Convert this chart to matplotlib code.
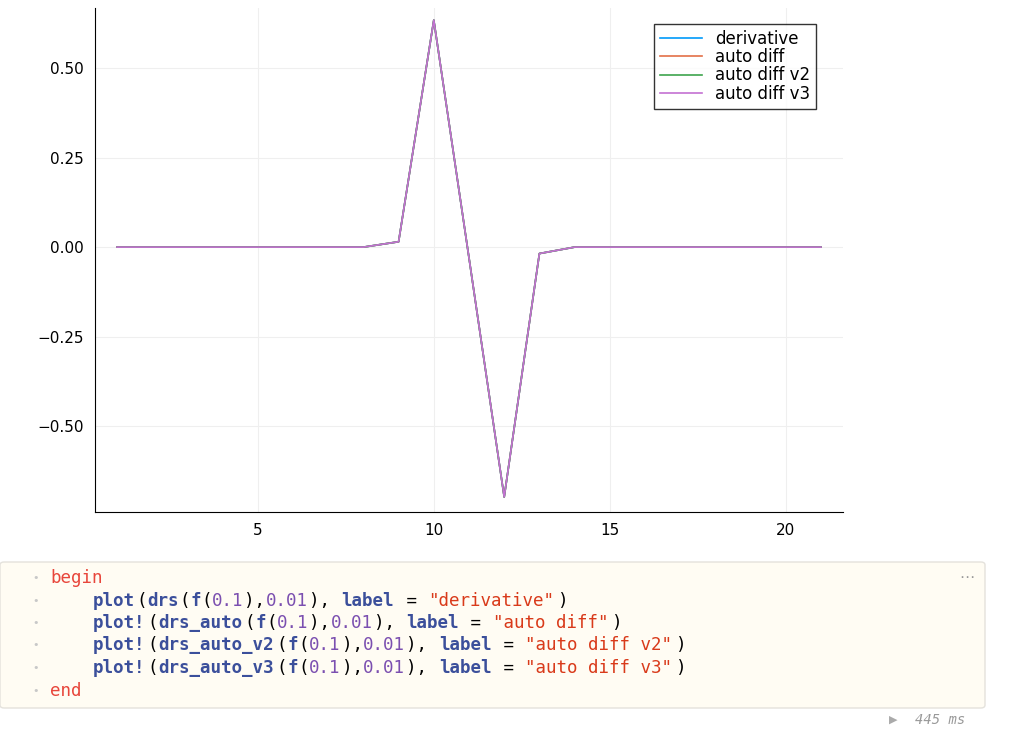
import matplotlib.pyplot as plt
from matplotlib.patches import FancyBboxPatch

x_vals = list(range(1, 22))
y_vals = [0, 0, 0, 0, 0, 0, 0, 0, 0.015, 0.634, -0.03, -0.698, -0.018,
          0, 0, 0, 0, 0, 0, 0, 0]
labels = ["derivative", "auto diff", "auto diff v2", "auto diff v3"]
colors = ["#009AFA", "#E36F47", "#3EA44E", "#C371D2"]

W, H = 1024, 732
fig = plt.figure(figsize=(W / 100, H / 100), dpi=100)

def rect(l, t, r, b):
    return [l / W, 1 - b / H, (r - l) / W, (b - t) / H]

ax = fig.add_axes(rect(95, 8, 843, 512))
for lab, c in zip(labels, colors):
    ax.plot(x_vals, y_vals, color=c, lw=1.2, label=lab)
ax.set_xlim(0.375, 21.625)
ax.set_ylim(-0.740, 0.668)
ax.set_xticks([5, 10, 15, 20])
ax.set_yticks([-0.5, -0.25, 0, 0.25, 0.5])
ax.set_yticklabels(["\u22120.50", "\u22120.25", "0.00", "0.25", "0.50"])
ax.grid(True, color="#efefef", lw=0.8)
for s in ["top", "right"]:
    ax.spines[s].set_visible(False)
ax.tick_params(labelsize=11, length=0, pad=8)
leg = ax.legend(loc="upper right", bbox_to_anchor=(0.975, 0.985), fontsize=12,
                frameon=True, fancybox=False, edgecolor="black",
                handlelength=2.5, borderpad=0.35, labelspacing=0.02)
leg.get_frame().set_linewidth(1)

# code cell
cell = FancyBboxPatch((0 / W, 1 - 708 / H), 985 / W, 146 / H,
                      boxstyle="round,pad=0,rounding_size=0.004",
                      transform=fig.transFigure, facecolor="#fffcf3",
                      edgecolor="#e4e2dc", lw=1)
fig.patches.append(cell)
lines = [
    [("begin", "#e8463b")],
    [("    ", "k"), ("plot", "#3b4f9b"), ("(", "k"), ("drs", "#3b4f9b"), ("(", "k"), ("f", "#3b4f9b"),
     ("(", "k"), ("0.1", "#7b4fb0"), ("),", "k"), ("0.01", "#7b4fb0"), ("), ", "k"), ("label", "#3b4f9b"),
     (" = ", "k"), ('"derivative"', "#d93a1a"), (")", "k")],
    [("    ", "k"), ("plot!", "#3b4f9b"), ("(", "k"), ("drs_auto", "#3b4f9b"), ("(", "k"), ("f", "#3b4f9b"),
     ("(", "k"), ("0.1", "#7b4fb0"), ("),", "k"), ("0.01", "#7b4fb0"), ("), ", "k"), ("label", "#3b4f9b"),
     (" = ", "k"), ('"auto diff"', "#d93a1a"), (")", "k")],
    [("    ", "k"), ("plot!", "#3b4f9b"), ("(", "k"), ("drs_auto_v2", "#3b4f9b"), ("(", "k"), ("f", "#3b4f9b"),
     ("(", "k"), ("0.1", "#7b4fb0"), ("),", "k"), ("0.01", "#7b4fb0"), ("), ", "k"), ("label", "#3b4f9b"),
     (" = ", "k"), ('"auto diff v2"', "#d93a1a"), (")", "k")],
    [("    ", "k"), ("plot!", "#3b4f9b"), ("(", "k"), ("drs_auto_v3", "#3b4f9b"), ("(", "k"), ("f", "#3b4f9b"),
     ("(", "k"), ("0.1", "#7b4fb0"), ("),", "k"), ("0.01", "#7b4fb0"), ("), ", "k"), ("label", "#3b4f9b"),
     (" = ", "k"), ('"auto diff v3"', "#d93a1a"), (")", "k")],
    [("end", "#e8463b")],
]
char_w = 10.8
for i, segs in enumerate(lines):
    ypx = 578 + i * 22.5
    fig.text(32 / W, 1 - ypx / H, "\u2022", color="#c8c8c8", fontsize=8, va="center")
    col = 0
    for txt, c in segs:
        fig.text((50 + col * char_w) / W, 1 - ypx / H, txt, color=c, fontsize=12.6,
                 family="DejaVu Sans Mono", va="center",
                 weight="bold" if c == "#3b4f9b" else "normal")
        col += len(txt)
fig.text(967 / W, 1 - 578 / H, "\u22ef", fontsize=11, color="#999999", ha="center", va="center")
fig.text(965 / W, 1 - 720 / H, "445 ms", fontsize=10, color="#999999", style="italic",
         ha="right", va="center", family="DejaVu Sans Mono")
fig.text(893 / W, 1 - 720 / H, "\u25b6", fontsize=8, color="#aaaaaa", ha="center", va="center")

fig.savefig("out.png", dpi=100)
